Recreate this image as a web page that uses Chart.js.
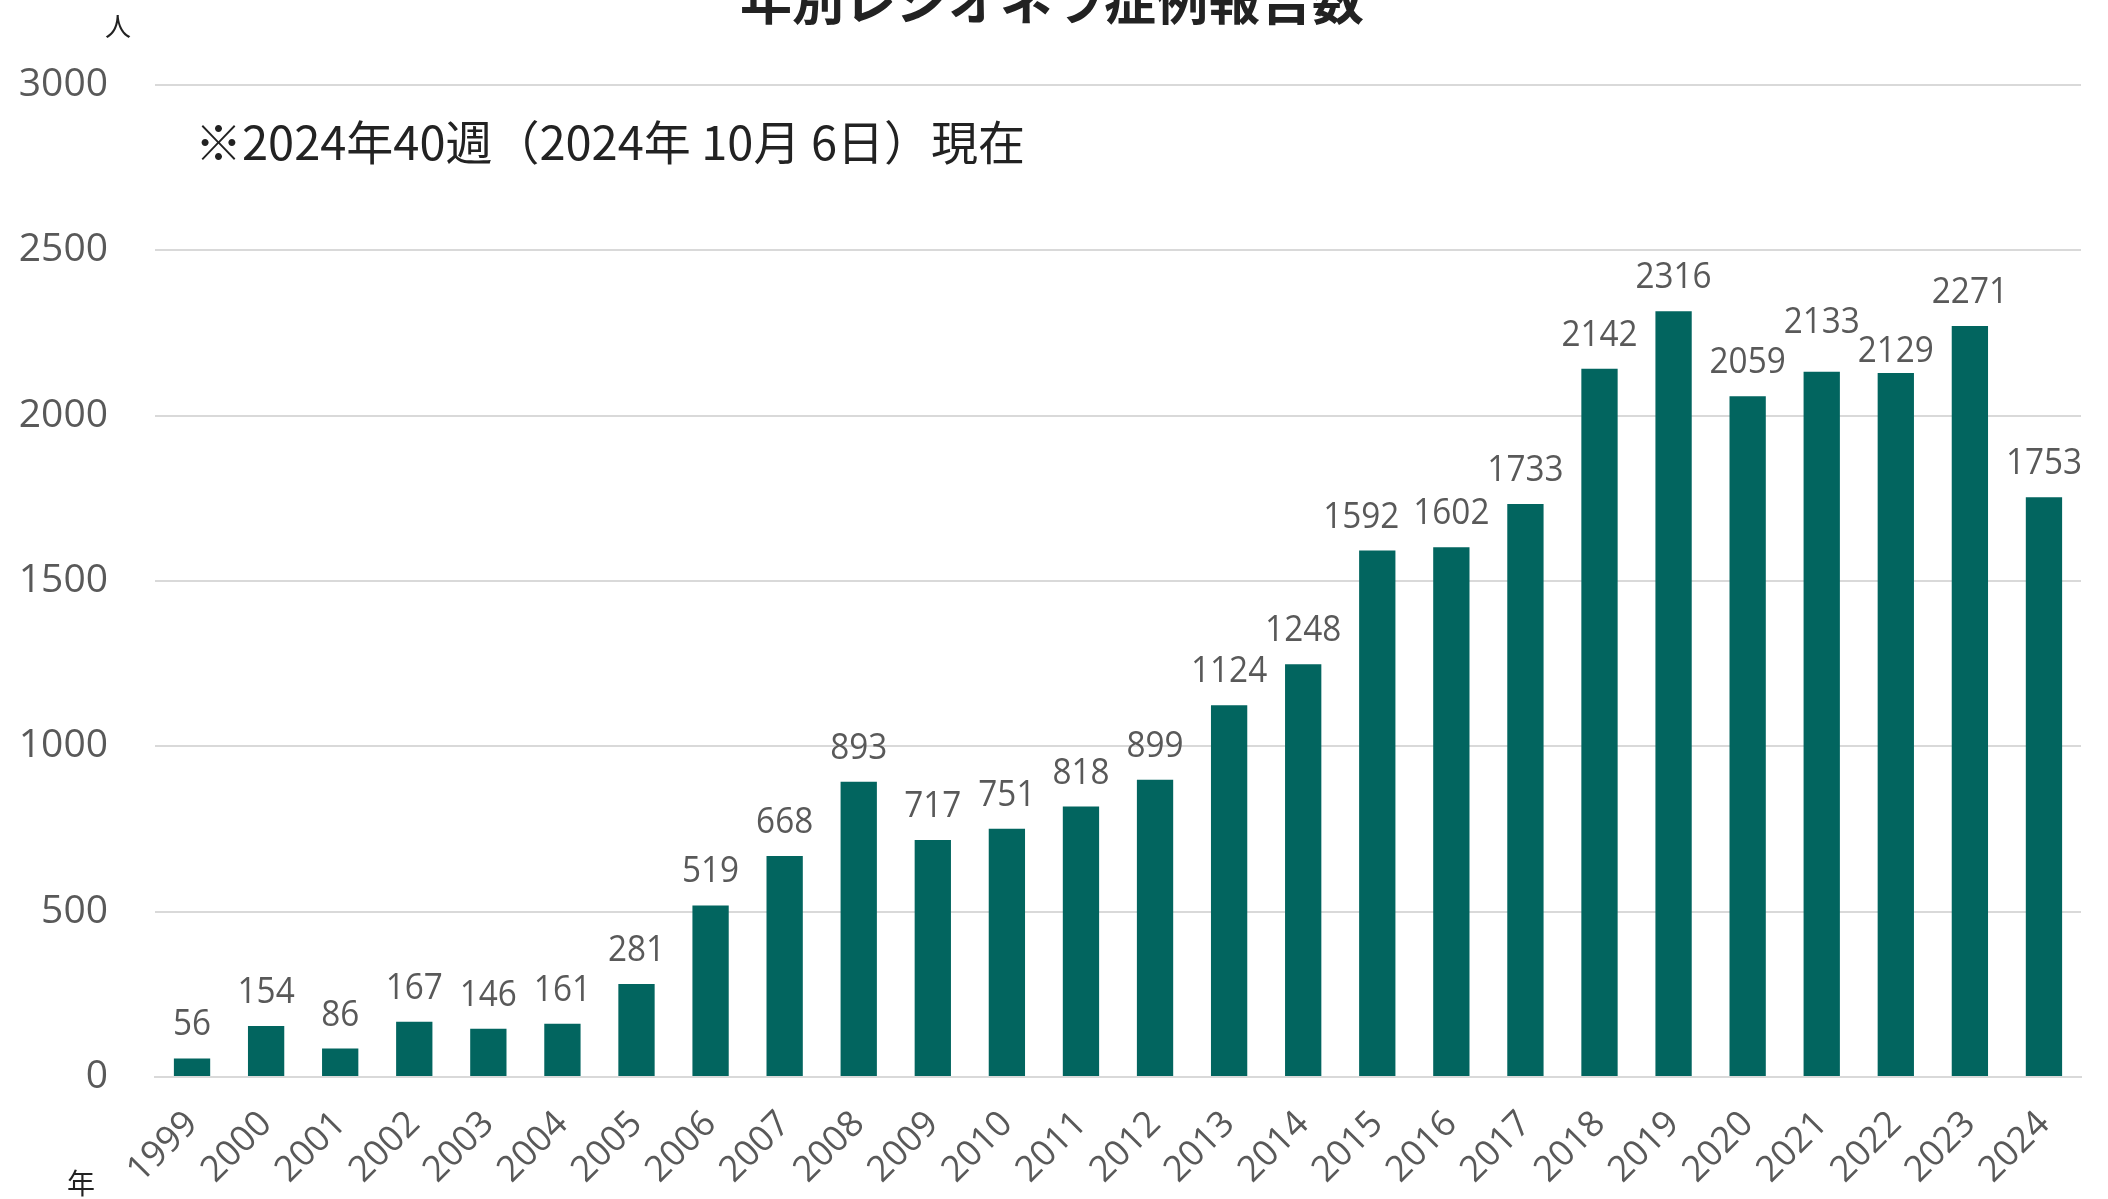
<!DOCTYPE html>
<html>
<head>
<meta charset="utf-8">
<script src="https://cdn.jsdelivr.net/npm/chart.js@4"></script>
<style>
  html, body { margin: 0; padding: 0; background: #fff; }
  #wrap { width: 2108px; height: 1199px; }
</style>
</head>
<body>
<div id="wrap"><canvas id="legionella" width="2108" height="1199"></canvas></div>
<script>
const years = ['1999', '2000', '2001', '2002', '2003', '2004', '2005', '2006', '2007', '2008', '2009', '2010', '2011',
  '2012', '2013', '2014', '2015', '2016', '2017', '2018', '2019', '2020', '2021', '2022', '2023', '2024'];
const cases = [56, 154, 86, 167, 146, 161, 281, 519, 668, 893, 717, 751, 818,
  899, 1124, 1248, 1592, 1602, 1733, 2142, 2316, 2059, 2133, 2129, 2271, 1753];
const yTicks = [0, 500, 1000, 1500, 2000, 2500, 3000];

const chartTitle = '年別レジオネラ症例報告数';
const noteText = '※2024年40週（2024年 10月 6日）現在';
const yUnit = '人';
const xUnit = '年';

const barColor = '#02655f';
const tickColor = '#595959';

// 重なるラベルだけ少しずらす (元図と同じ)
const labelNudge = { '2015': [-16, 0], '2021': [0, -16], '2022': [0, 12] };

// バーの上に値を描く
const valueLabels = {
  id: 'valueLabels',
  afterDatasetsDraw(chart) {
    const { ctx } = chart;
    const meta = chart.getDatasetMeta(0);
    ctx.save();
    ctx.font = '37px "Open Sans"';
    ctx.fillStyle = tickColor;
    ctx.textAlign = 'center';
    ctx.textBaseline = 'alphabetic';
    meta.data.forEach((bar, i) => {
      const txt = String(cases[i]);
      const nudge = labelNudge[years[i]] || [0, 0];
      const w = ctx.measureText(txt).width * 0.9;
      ctx.fillText(txt, bar.x + nudge[0], bar.y - 23 + nudge[1], w);
    });
    ctx.restore();
  },
};

// タイトル・注記・単位
const extraText = {
  id: 'extraText',
  afterDraw(chart) {
    const { ctx } = chart;
    ctx.save();
    ctx.fillStyle = '#222';
    ctx.textAlign = 'center';
    ctx.textBaseline = 'alphabetic';
    ctx.font = 'bold 52px "Noto Sans CJK JP"';
    ctx.fillText(chartTitle, 1052, 20);

    ctx.font = '26px "Noto Sans CJK JP"';
    ctx.fillText(yUnit, 118, 36);
    ctx.font = '28px "Noto Sans CJK JP"';
    ctx.fillText(xUnit, 81, 1194);

    ctx.textAlign = 'left';
    ctx.textBaseline = 'middle';
    ctx.font = '47px "Noto Sans CJK JP"';
    ctx.fillText(noteText, 195, 142, 830);
    ctx.restore();
  },
};

new Chart(document.getElementById('legionella'), {
  type: 'bar',
  data: {
    labels: years,
    datasets: [
      {
        data: cases,
        backgroundColor: barColor,
        barPercentage: 0.49,
        categoryPercentage: 1.0,
      },
    ],
  },
  options: {
    responsive: false,
    animation: false,
    layout: { padding: { top: 85, right: 27, left: 0, bottom: 0 } },
    plugins: {
      legend: { display: false },
      title: { display: false },
      tooltip: { enabled: false },
    },
    scales: {
      x: {
        grid: { display: false, drawTicks: false },
        border: { color: '#d9d9d9', width: 2 },
        ticks: {
          color: tickColor,
          font: { family: 'Open Sans', size: 36 },
          minRotation: 45,
          maxRotation: 45,
          padding: 26,
        },
        afterFit(scale) {
          scale.height = 1199 - 1077;
        },
      },
      y: {
        min: 0,
        max: 3000,
        afterBuildTicks(scale) {
          scale.ticks = yTicks.map((v) => ({ value: v }));
        },
        grid: { color: '#d9d9d9', lineWidth: 2, drawTicks: false },
        border: { display: false },
        ticks: {
          color: tickColor,
          font: { family: 'Open Sans', size: 39 },
          padding: 47,
          callback: (v) => String(v),
        },
        afterFit(scale) {
          scale.width = 155;
        },
      },
    },
  },
  plugins: [valueLabels, extraText],
});
</script>
</body>
</html>
